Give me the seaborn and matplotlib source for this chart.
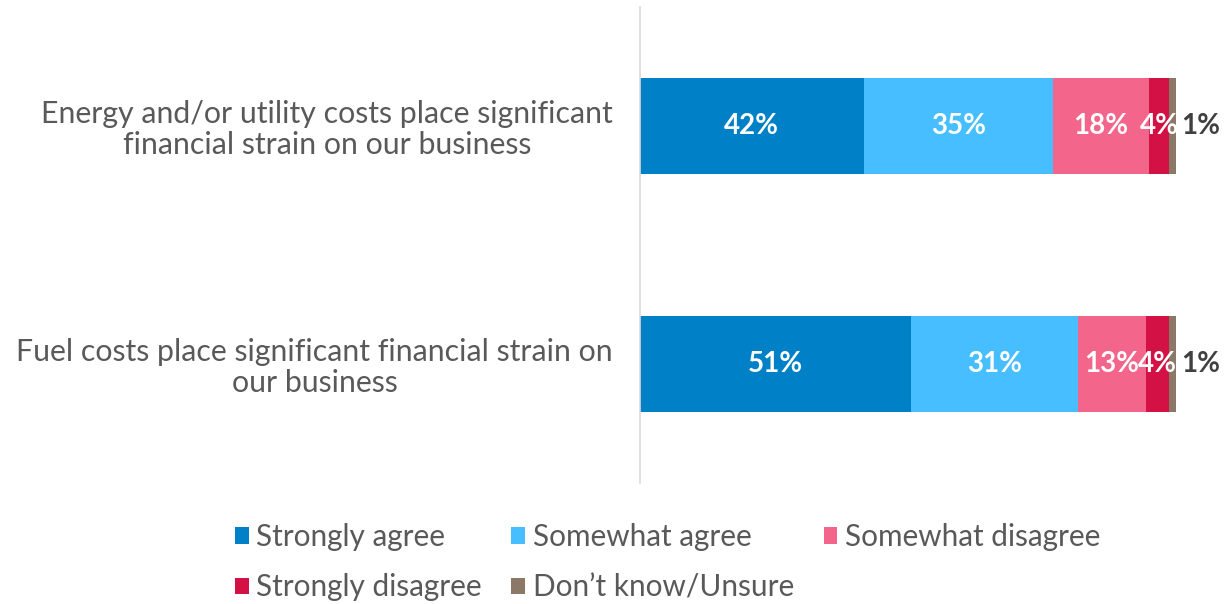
import numpy as np
import pandas as pd
import matplotlib
matplotlib.use("Agg")
import matplotlib.pyplot as plt
import seaborn as sns
from matplotlib.patches import Patch

# data (percent of respondents)
statements = [
    "Energy and/or utility costs place significant\nfinancial strain on our business",
    "Fuel costs place significant financial strain on\nour business",
]
responses = ["Strongly agree", "Somewhat agree", "Somewhat disagree",
             "Strongly disagree", "Don\u2019t know/Unsure"]
strongly_agree = [41.7, 50.6]
somewhat_agree = [35.4, 31.1]
somewhat_disagree = [17.9, 12.7]
strongly_disagree = [3.7, 4.3]
dont_know = [1.3, 1.3]

colors = ["#0080C6", "#47BEFF", "#F3658A", "#D31145", "#8B7866"]

sns.set_theme(style="white")
plt.rcParams["font.family"] = ["Lato", "DejaVu Sans"]

df = pd.DataFrame({
    "Statement": statements,
    responses[0]: strongly_agree,
    responses[1]: somewhat_agree,
    responses[2]: somewhat_disagree,
    responses[3]: strongly_disagree,
    responses[4]: dont_know,
})
cum = df[responses].cumsum(axis=1)

fig = plt.figure(figsize=(12.31, 6.04), dpi=100)
ax = fig.add_axes([640 / 1231, 121 / 604, 591 / 1231, 476 / 604])

# stacked bars: draw cumulative totals from the right-most segment back
for resp, col in reversed(list(zip(responses, colors))):
    sns.barplot(x=cum[resp], y=df["Statement"], color=col, orient="h",
                width=0.4, errorbar=None, linewidth=0, saturation=1, ax=ax)

# value labels
for i in range(len(df)):
    left = 0
    for resp in responses:
        v = df.loc[i, resp]
        txt = f"{round(v):d}%"
        if v < 2:
            ax.text(left + v + 1.0, i, txt, ha="left", va="center",
                    color="#404040", fontsize=20, fontweight="bold")
        else:
            ax.text(left + v / 2, i, txt, ha="center", va="center",
                    color="white", fontsize=20, fontweight="bold")
        left += v

ax.set_xlim(0, 591 / 5.36)
ax.set_ylim(1.5, -0.5)
ax.set_xlabel("")
ax.set_ylabel("")
ax.set_xticks([])
for s in ["top", "right", "bottom"]:
    ax.spines[s].set_visible(False)
ax.spines["left"].set_color("#D9D9D9")
ax.spines["left"].set_linewidth(1.2)
ax.tick_params(axis="y", length=0, pad=19.5)
for lbl in ax.get_yticklabels():
    lbl.set_fontsize(21.8)
    lbl.set_color("#595959")
    lbl.set_multialignment("center")
    lbl.set_linespacing(1.1)

# legend laid out row by row (matplotlib fills columns first)
order = [0, 3, 1, 4, 2]
handles = [Patch(facecolor=colors[k], edgecolor="none") for k in order]
labels = [responses[k] for k in order]
fig.legend(handles, labels, loc="upper left",
           bbox_to_anchor=(235 / 1231, 1 - 523 / 604), ncol=3, frameon=False,
           fontsize=21.4, labelcolor="#595959", handlelength=0.47,
           handleheight=0.47, handletextpad=0.24, columnspacing=1.0,
           labelspacing=0.75, borderpad=0, borderaxespad=0)

fig.savefig("out.png", dpi=100)
